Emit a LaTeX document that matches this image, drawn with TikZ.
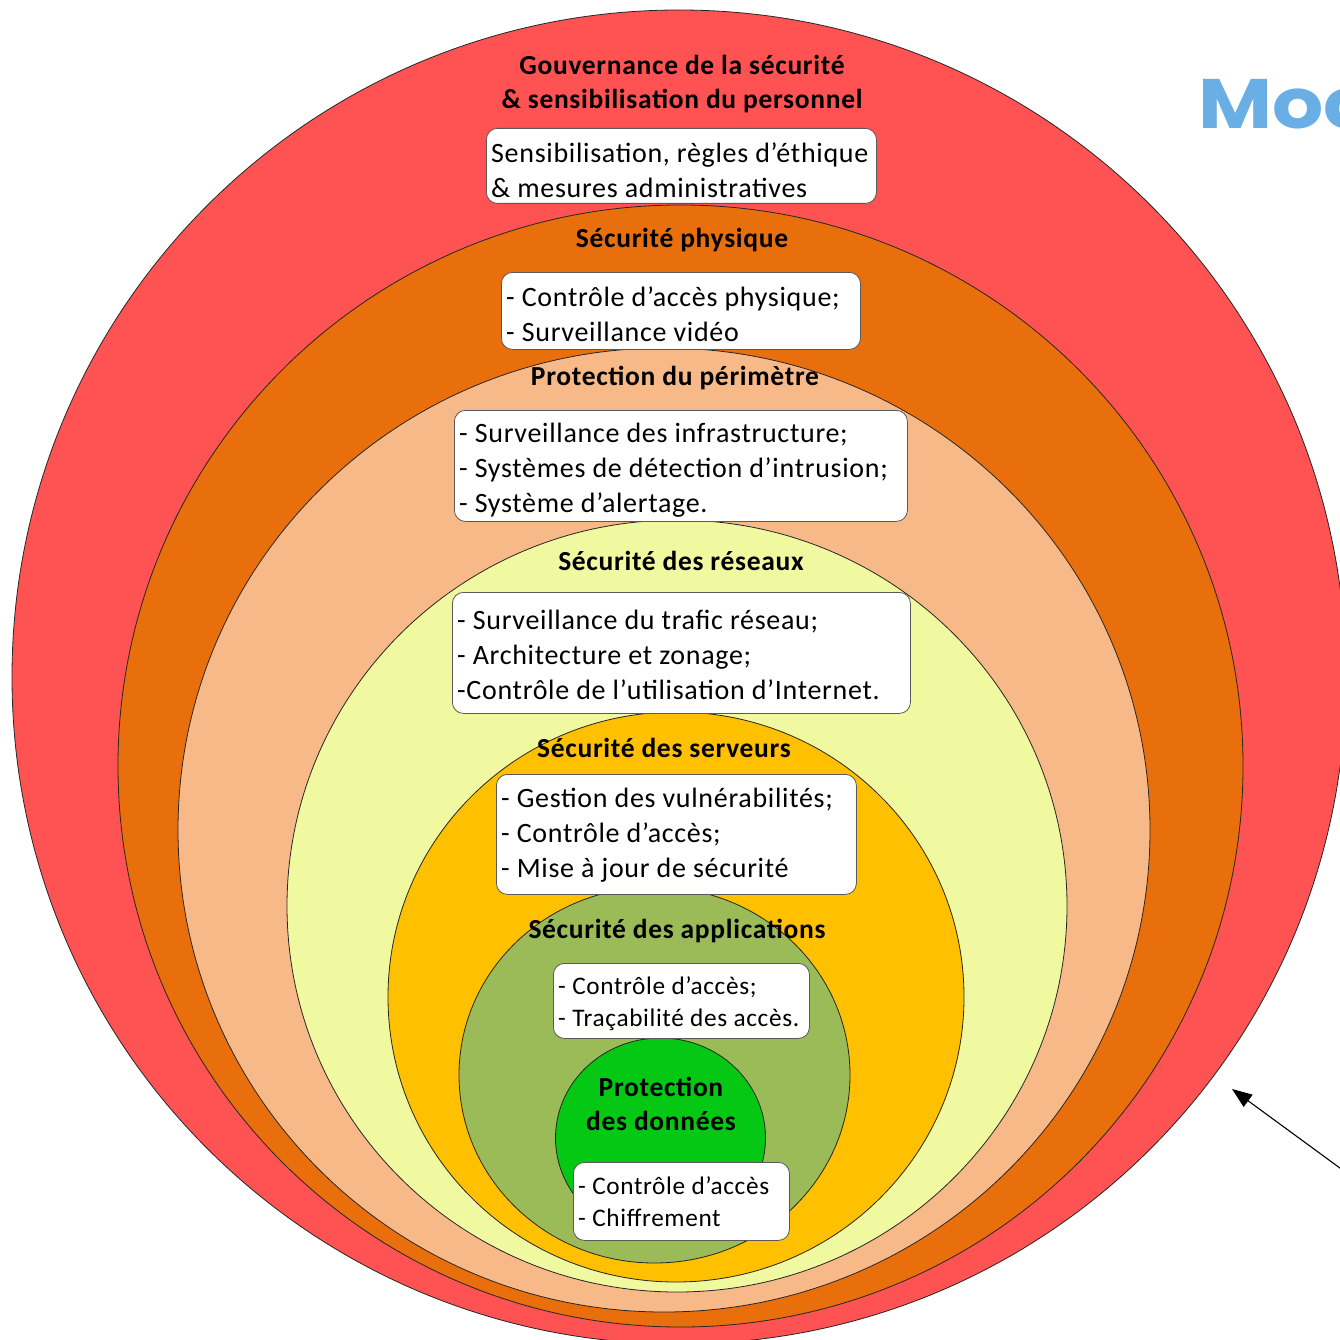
\documentclass[tikz,border=0pt]{standalone}
\usepackage{fontspec}
\setmainfont{Carlito}[LetterSpace=2.5]
\newfontfamily\mocfont{Poppins}[FakeStretch=1.15]
\usetikzlibrary{arrows.meta}
\definecolor{cred}{HTML}{FF5252}
\definecolor{corange}{HTML}{E96E0C}
\definecolor{cpeach}{HTML}{F8B989}
\definecolor{clyellow}{HTML}{F0F8A0}
\definecolor{cyellow}{HTML}{FFC000}
\definecolor{cgreen}{HTML}{9BBB59}
\definecolor{cbgreen}{HTML}{05C815}
\definecolor{cblue}{HTML}{6AAEE6}
\begin{document}
\begin{tikzpicture}[x=1pt,y=-1pt,
  ring/.style={draw=black!85, line width=0.8pt},
  box/.style={draw=black!65, fill=white, rounded corners=11pt, line width=0.8pt,
    inner sep=0pt, anchor=north west},
  boxtext/.style={inner xsep=5pt, inner ysep=0pt, anchor=west, align=left,
    font=\fontsize{28}{35}\selectfont},
  smalltext/.style={boxtext, font=\fontsize{25.3}{32}\selectfont},
  title/.style={font=\fontsize{27.5}{34}\selectfont\bfseries, align=center, inner sep=0pt}]
\useasboundingbox (0,0) rectangle (1340,1340);
\clip (0,0) rectangle (1340,1340);
\fill[white] (0,0) rectangle (1340,1340);
% rings
\draw[ring, fill=cred] (679,677) ellipse [x radius=667pt, y radius=667pt];
\draw[ring, fill=corange] (680.5,766) ellipse [x radius=562.5pt, y radius=561pt];
\draw[ring, fill=cpeach] (664,830) ellipse [x radius=486pt, y radius=482pt];
\draw[ring, fill=clyellow] (677,906) ellipse [x radius=390pt, y radius=386pt];
\draw[ring, fill=cyellow] (676,997) ellipse [x radius=288pt, y radius=285pt];
\draw[ring, fill=cgreen] (654.5,1075) ellipse [x radius=195.5pt, y radius=188pt];
\draw[ring, fill=cbgreen] (660.5,1138) ellipse [x radius=105pt, y radius=100pt];
% titles
\node[title] (t1) at (682,84) {Gouvernance de la sécurité\\\& sensibilisation du personnel};
\node[title] (t2) at (682,240) {Sécurité physique};
\node[title] (t3) at (675,378) {Protection du périmètre};
\node[title] (t4) at (681,561) {Sécurité des réseaux};
\node[title] (t5) at (664,748) {Sécurité des serveurs};
\node[title] (t6) at (677,931) {Sécurité des applications};
\node[title] (t7) at (661,1104) {Protection\\des données};
% boxes
\node[box, minimum width=390pt, minimum height=75pt] (b1) at (486,128) {};
\node[boxtext] (b1t) at ([yshift=-4pt]b1.west)
  {Sensibilisation, règles d’éthique\\\& mesures administratives};
\node[box, minimum width=359pt, minimum height=77pt] (b2) at (501,272) {};
\node[boxtext] (b2t) at ([yshift=-3pt]b2.west)
  {- Contrôle d’accès physique;\\- Surveillance vidéo};
\node[box, minimum width=453pt, minimum height=111pt] (b3) at (454,410) {};
\node[boxtext] (b3t) at ([yshift=-4pt]b3.west)
  {- Surveillance des infrastructure;\\- Systèmes de détection d’intrusion;\\- Système d’alertage.};
\node[box, minimum width=458pt, minimum height=121pt] (b4) at (452,592) {};
\node[boxtext] (b4t) at ([yshift=-2pt]b4.west)
  {- Surveillance du trafic réseau;\\- Architecture et zonage;\\-Contrôle de l’utilisation d’Internet.};
\node[box, minimum width=360pt, minimum height=120pt] (b5) at (496,774) {};
\node[boxtext] (b5t) at ([yshift=-1pt]b5.west)
  {- Gestion des vulnérabilités;\\- Contrôle d’accès;\\- Mise à jour de sécurité};
\node[box, minimum width=256pt, minimum height=75pt] (b6) at (553,963) {};
\node[smalltext] (b6t) at ([yshift=-2.5pt]b6.west)
  {- Contrôle d’accès;\\- Traçabilité des accès.};
\node[box, minimum width=216pt, minimum height=78pt] (b7) at (573,1162) {};
\node[smalltext] (b7t) at (b7.west)
  {- Contrôle d’accès\\- Chiffrement};
% partial title at right (cut by the page edge, as in the reference)
\node[anchor=base west, inner sep=0pt, text=cblue, font=\mocfont\bfseries\fontsize{70}{70}\selectfont] (moc) at (1198,129) {Moc};
% arrow
\coordinate (aS) at (1400,1212);
\coordinate (aE) at (1232,1089);
\draw[line width=1.1pt, -{Triangle[length=20pt,width=15pt]}] (aS) -- (aE);
\end{tikzpicture}
\end{document}
